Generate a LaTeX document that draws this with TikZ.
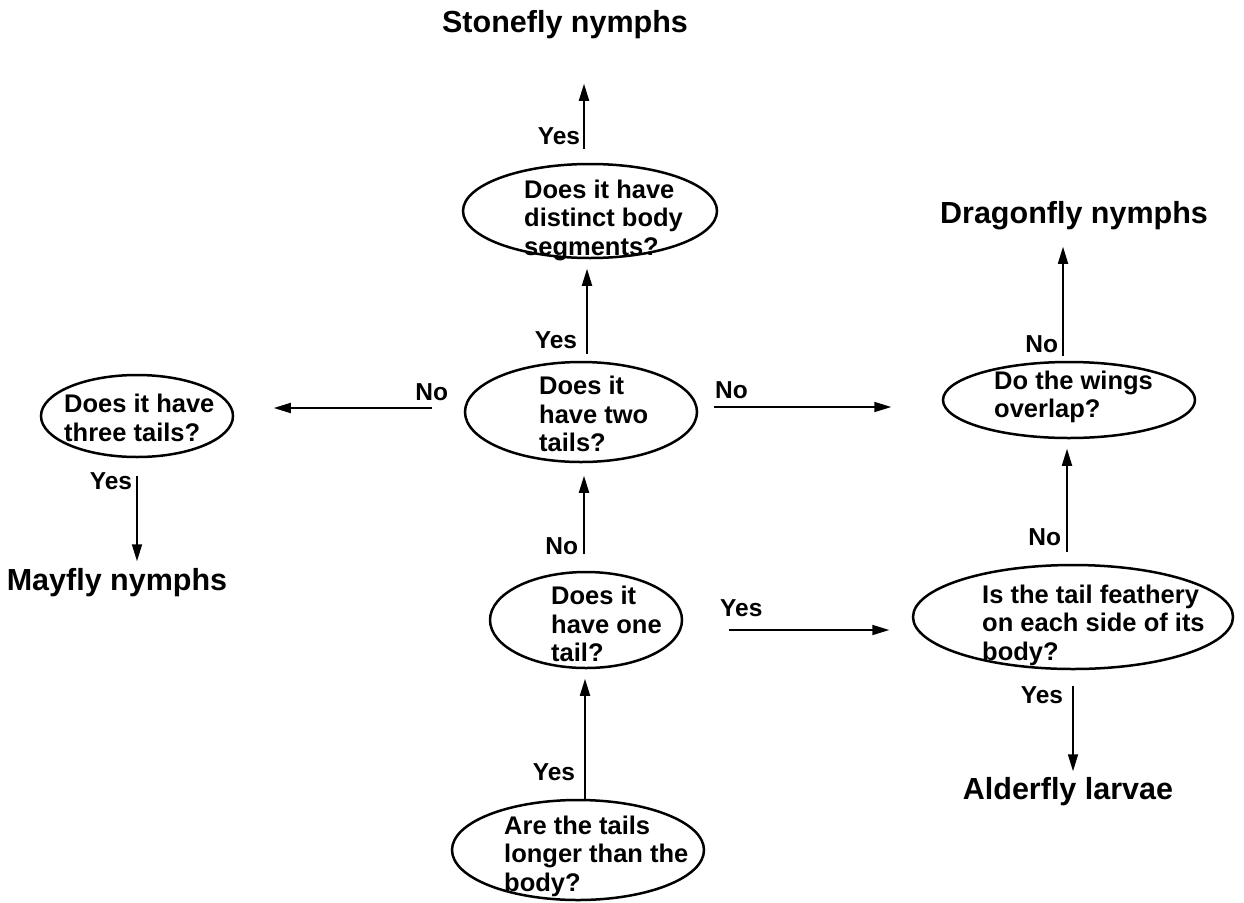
\documentclass[tikz,border=0pt]{standalone}
\usepackage{fontspec}
\setmainfont{Liberation Sans}
\usetikzlibrary{shapes.geometric,arrows.meta}
\begin{document}
\begin{tikzpicture}[x=1pt,y=-1pt,
  question/.style={ellipse, draw, line width=2.5pt, inner sep=0pt},
  qtext/.style={anchor=west, align=left, inner sep=0pt,
    font=\fontsize{25.5}{28.5}\selectfont\bfseries},
  answer/.style={inner sep=0pt, font=\fontsize{30.5}{34}\selectfont\bfseries},
  arr/.style={line width=1.8pt, -{Triangle[length=17pt,width=10pt]}},
  lbl/.style={inner sep=0pt, font=\fontsize{24.5}{28}\selectfont\bfseries}]
\useasboundingbox (0,0) rectangle (1244,902);

% end results
\node[answer] (stone)  at (565,25)   {Stonefly nymphs};
\node[answer] (dragon) at (1074,216) {Dragonfly nymphs};
\node[answer] (mayfly) at (117,583)  {Mayfly nymphs};
\node[answer] (alder)  at (1068,792) {Alderfly larvae};

% question ellipses
\node[question, minimum width=254pt, minimum height=94pt]  (q1) at (590,211) {};
\node[question, minimum width=232pt, minimum height=100pt] (q2) at (581,412) {};
\node[question, minimum width=192pt, minimum height=82pt]  (q3) at (137,416) {};
\node[question, minimum width=252pt, minimum height=76pt]  (q4) at (1069,400) {};
\node[question, minimum width=192pt, minimum height=96pt]  (q5) at (586,620) {};
\node[question, minimum width=320pt, minimum height=104pt] (q6) at (1073,617) {};
\node[question, minimum width=252pt, minimum height=100pt] (q7) at (578,850) {};

% question texts
\node[qtext] (t1) at (524,220)  {Does it have\\distinct body\\segments?};
\node[qtext] (t2) at (539,414)  {Does it\\have two\\tails?};
\node[qtext] (t3) at (64,418)   {Does it have\\three tails?};
\node[qtext] (t4) at (994,397)  {Do the wings\\overlap?};
\node[qtext] (t5) at (551,624)  {Does it\\have one\\tail?};
\node[qtext] (t6) at (982,625)  {Is the tail feathery\\on each side of its\\body?};
\node[qtext] (t7) at (504,856)  {Are the tails\\longer than the\\body?};

% connectors
\draw[arr] ([shift={(-6,-14)}]q1.north) -- ++(0,-65)
  node[lbl, pos=0.2, left=3pt] {Yes};
\draw[arr] ([shift={(6,-7)}]q2.north) -- ++(0,-85)
  node[lbl, pos=0.16, left=9pt] {Yes};
\draw[arr] ([shift={(-32,-4)}]q2.west) -- ++(-158,0)
  node[lbl, pos=0, above=6pt] {No};
\draw[arr] ([shift={(16,-5)}]q2.east) -- ++(177,0)
  node[lbl, pos=0, anchor=south west, yshift=7pt] {No};
\draw[arr] ([shift={(-6,-5)}]q4.north) -- ++(0,-109)
  node[lbl, pos=0.11, left=4pt] {No};
\draw[arr] ([shift={(-6,-12)}]q6.north) -- ++(0,-103)
  node[lbl, pos=0.14, left=5pt] {No};
\draw[arr] ([shift={(-2,-17)}]q5.north) -- ++(0,-78)
  node[lbl, pos=0.1, left=5pt] {No};
\draw[arr] ([shift={(46,10)}]q5.east) -- ++(160,0)
  node[lbl, pos=0, anchor=south west, xshift=-10pt, yshift=12pt] {Yes};
\draw[arr] ([shift={(7,0)}]q7.north) -- ++(0,-120)
  node[lbl, pos=0.225, left=9pt] {Yes};
\draw[arr] ([shift={(0,18)}]q3.south) -- ++(0,85)
  node[lbl, pos=0.06, left=4pt] {Yes};
\draw[arr] ([shift={(0,16)}]q6.south) -- ++(0,85)
  node[lbl, pos=0.1, left=9pt] {Yes};
\end{tikzpicture}
\end{document}
